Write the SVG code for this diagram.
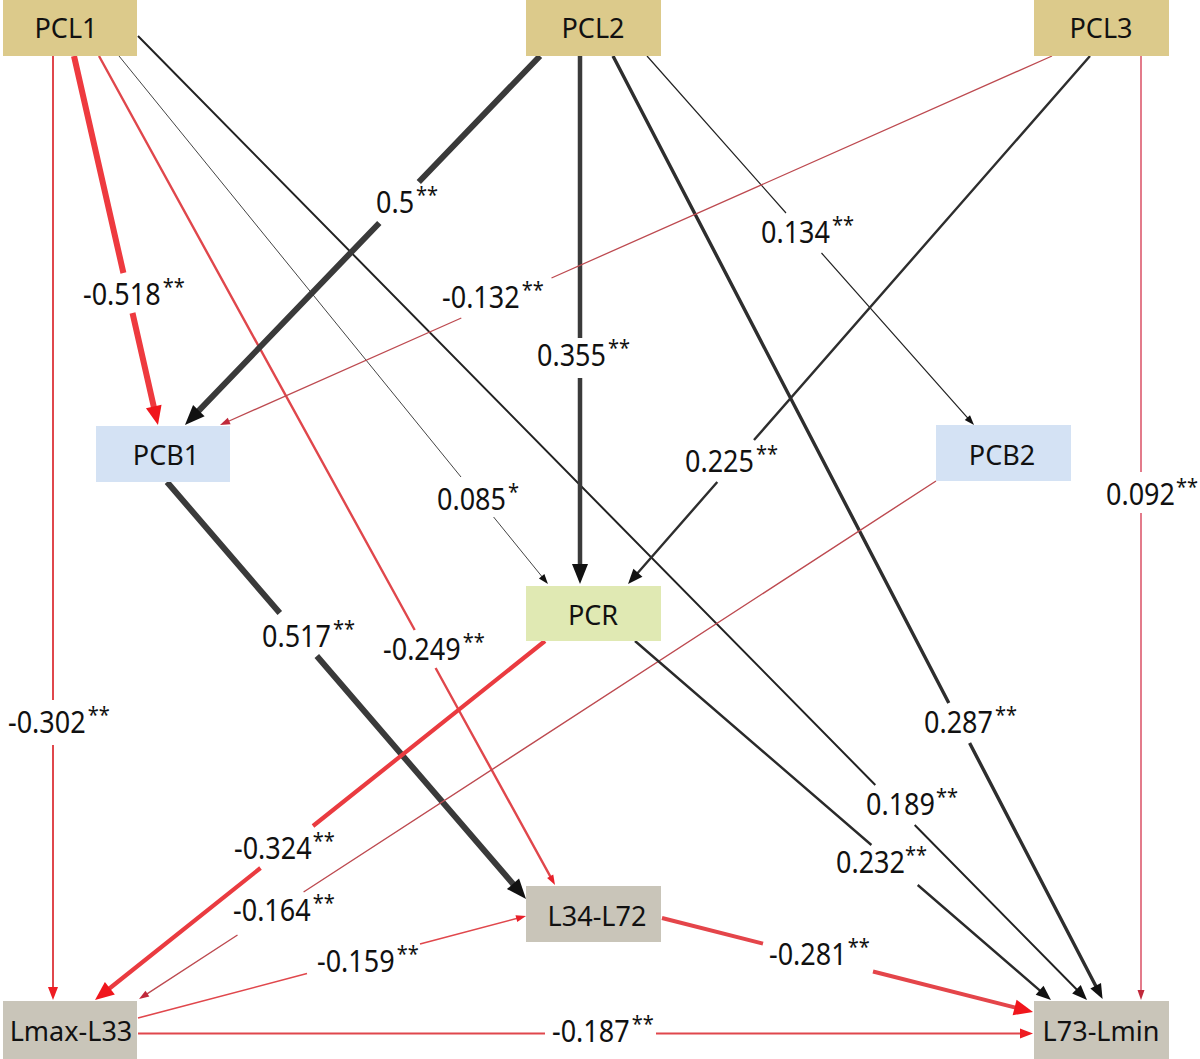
<svg xmlns="http://www.w3.org/2000/svg" width="1200" height="1059" viewBox="0 0 1200 1059">
<defs>
<style>
.n{font-family:"Noto Sans","Open Sans","DejaVu Sans",sans-serif;font-size:27px;fill:#111;text-anchor:middle}
.l{font-family:"Noto Sans","Open Sans","DejaVu Sans",sans-serif;font-size:27px;fill:#111}
.s{font-size:20px}
.c{fill:none;stroke-linecap:butt}
.pcl{fill:#dcca8b}
.pcb{fill:#d4e2f4}
.pcr{fill:#e0e9b3}
.lx{fill:#c9c5b9}
</style>
<marker id="bk" markerUnits="userSpaceOnUse" markerWidth="22" markerHeight="18" refX="8" refY="8" orient="auto" overflow="visible"><path d="M0,0 L20,8 L0,16 Z" fill="#111"/></marker>
<marker id="mk" markerUnits="userSpaceOnUse" markerWidth="17" markerHeight="13" refX="7" refY="6" orient="auto" overflow="visible"><path d="M0,0 L15,6 L0,12 Z" fill="#111"/></marker>
<marker id="sk" markerUnits="userSpaceOnUse" markerWidth="11" markerHeight="8" refX="5" refY="3.5" orient="auto" overflow="visible"><path d="M0,0 L10,3.5 L0,7 Z" fill="#111"/></marker>
<marker id="br" markerUnits="userSpaceOnUse" markerWidth="20" markerHeight="18" refX="7" refY="8" orient="auto" overflow="visible"><path d="M0,0 L19,8 L0,16 Z" fill="#f0161c"/></marker>
<marker id="mr" markerUnits="userSpaceOnUse" markerWidth="14" markerHeight="11" refX="6" refY="5" orient="auto" overflow="visible"><path d="M0,0 L13,5 L0,10 Z" fill="#ee1c22"/></marker>
<marker id="sr" markerUnits="userSpaceOnUse" markerWidth="11" markerHeight="8" refX="5" refY="3.5" orient="auto" overflow="visible"><path d="M0,0 L10,3.5 L0,7 Z" fill="#e8202a"/></marker>
<marker id="sd" markerUnits="userSpaceOnUse" markerWidth="11" markerHeight="8" refX="5" refY="3.5" orient="auto" overflow="visible"><path d="M0,0 L10,3.5 L0,7 Z" fill="#c0283a"/></marker>
</defs>
<rect width="1200" height="1059" fill="#fff"/>
<g id="connectors">
<path class="c" stroke="#e0474c" stroke-width="2" d="M53,56 L53,700 M53,745 L53,993" marker-end="url(#mr)"/>
<path class="c" stroke="#ee3a3f" stroke-width="6" d="M74,56 L123.4,273 M132.5,313 L155.3,413.3" marker-end="url(#br)"/>
<path class="c" stroke="#e0474c" stroke-width="2.4" d="M99,56 L414.7,630 M435.6,668 L552.6,880.6" marker-end="url(#sr)"/>
<path class="c" stroke="#444" stroke-width="1" d="M119,56 L461,477 M493.6,517 L544.8,580.1" marker-end="url(#sk)"/>
<path class="c" stroke="#222" stroke-width="2" d="M138,36 L875.3,785 M914.7,825 L1081.4,994.3" marker-end="url(#mk)"/>
<path class="c" stroke="#3a3a3a" stroke-width="6" d="M540,56 L418.8,182 M379.3,223 L193.3,416.4" marker-end="url(#bk)"/>
<path class="c" stroke="#3a3a3a" stroke-width="4.5" d="M580,56 L580,338 M580,378 L580,572" marker-end="url(#bk)"/>
<path class="c" stroke="#2e2e2e" stroke-width="3.4" d="M613,56 L948.8,703 M969.6,743 L1098.9,992" marker-end="url(#mk)"/>
<path class="c" stroke="#222" stroke-width="1.2" d="M647,56 L786,213 M821.5,253 L970.7,421.3" marker-end="url(#sk)"/>
<path class="c" stroke="#bd4a50" stroke-width="1.3" d="M1052,56 L551.5,278 M461.3,318 L224.6,423" marker-end="url(#sd)"/>
<path class="c" stroke="#2e2e2e" stroke-width="2.4" d="M1090,56 L754,440 M717.3,482 L633.3,578" marker-end="url(#mk)"/>
<path class="c" stroke="#dd5b6e" stroke-width="1.6" d="M1141,56 L1141,472 M1141,513 L1141,995" marker-end="url(#sd)"/>
<path class="c" stroke="#3a3a3a" stroke-width="6" d="M167,482 L279.8,613 M316.8,656 L518.2,889.9" marker-end="url(#bk)"/>
<path class="c" stroke="#bd4a50" stroke-width="1.4" d="M936,481 L303.6,892 M237.5,935 L143.2,996.3" marker-end="url(#sd)"/>
<path class="c" stroke="#ea3b40" stroke-width="4.2" d="M545,641 L313,826 M260.5,868 L104.4,992.5" marker-end="url(#br)"/>
<path class="c" stroke="#2a2a2a" stroke-width="2.4" d="M635,641 L871.4,845 M917.7,885 L1044.9,994.8" marker-end="url(#mk)"/>
<path class="c" stroke="#e0474c" stroke-width="1.6" d="M138,1018 L307,973.6 M420,943.9 L521.2,917.3" marker-end="url(#sr)"/>
<path class="c" stroke="#e0474c" stroke-width="2" d="M138,1033.5 L545,1033.5 M656,1033.5 L1026,1033.5" marker-end="url(#mr)"/>
<path class="c" stroke="#e4454a" stroke-width="4" d="M662,918 L763,943.6 M873,971.5 L1021.4,1009.1" marker-end="url(#br)"/>
</g>
<g id="PCL1"><rect class="pcl" x="3" y="0" width="134" height="56"/><text class="n" x="66" y="38">PCL1</text></g>
<g id="PCL2"><rect class="pcl" x="526" y="0" width="135" height="56"/><text class="n" x="593" y="38">PCL2</text></g>
<g id="PCL3"><rect class="pcl" x="1034" y="0" width="135" height="56"/><text class="n" x="1101" y="38">PCL3</text></g>
<g id="PCB1"><rect class="pcb" x="96" y="426" width="134" height="56"/><text class="n" x="166" y="465">PCB1</text></g>
<g id="PCB2"><rect class="pcb" x="936" y="425" width="135" height="56"/><text class="n" x="1002" y="465">PCB2</text></g>
<g id="PCR"><rect class="pcr" x="526" y="586" width="135" height="55"/><text class="n" x="593" y="625">PCR</text></g>
<g id="L34-L72"><rect class="lx" x="526" y="886" width="135" height="56"/><text class="n" x="597" y="926">L34-L72</text></g>
<g id="Lmax-L33"><rect class="lx" x="3" y="1001" width="134" height="58"/><text class="n" x="71" y="1041">Lmax-L33</text></g>
<g id="L73-Lmin"><rect class="lx" x="1034" y="1001" width="135" height="58"/><text class="n" x="1101" y="1041">L73-Lmin</text></g>
<g id="labels">
<text class="l" x="8" y="733" transform="translate(0 733) scale(1 1.12) translate(0 -733)">-0.302<tspan class="s" dx="2" dy="-10">**</tspan></text>
<text class="l" x="83" y="305" transform="translate(0 305) scale(1 1.12) translate(0 -305)">-0.518<tspan class="s" dx="2" dy="-10">**</tspan></text>
<text class="l" x="376" y="213" transform="translate(0 213) scale(1 1.12) translate(0 -213)">0.5<tspan class="s" dx="2" dy="-10">**</tspan></text>
<text class="l" x="442" y="308" transform="translate(0 308) scale(1 1.12) translate(0 -308)">-0.132<tspan class="s" dx="2" dy="-10">**</tspan></text>
<text class="l" x="537" y="366" transform="translate(0 366) scale(1 1.12) translate(0 -366)">0.355<tspan class="s" dx="2" dy="-10">**</tspan></text>
<text class="l" x="761" y="243" transform="translate(0 243) scale(1 1.12) translate(0 -243)">0.134<tspan class="s" dx="2" dy="-10">**</tspan></text>
<text class="l" x="437" y="510" transform="translate(0 510) scale(1 1.12) translate(0 -510)">0.085<tspan class="s" dx="2" dy="-10">*</tspan></text>
<text class="l" x="685" y="472" transform="translate(0 472) scale(1 1.12) translate(0 -472)">0.225<tspan class="s" dx="2" dy="-10">**</tspan></text>
<text class="l" x="1106" y="505" transform="translate(0 505) scale(1 1.12) translate(0 -505)">0.092<tspan class="s" dx="1" dy="-10">**</tspan></text>
<text class="l" x="262" y="647" transform="translate(0 647) scale(1 1.12) translate(0 -647)">0.517<tspan class="s" dx="2" dy="-10">**</tspan></text>
<text class="l" x="383" y="660" transform="translate(0 660) scale(1 1.12) translate(0 -660)">-0.249<tspan class="s" dx="2" dy="-10">**</tspan></text>
<text class="l" x="924" y="733" transform="translate(0 733) scale(1 1.12) translate(0 -733)">0.287<tspan class="s" dx="2" dy="-10">**</tspan></text>
<text class="l" x="866" y="815" transform="translate(0 815) scale(1 1.12) translate(0 -815)">0.189<tspan class="s" dx="1" dy="-10">**</tspan></text>
<text class="l" x="234" y="859" transform="translate(0 859) scale(1 1.12) translate(0 -859)">-0.324<tspan class="s" dx="1" dy="-10">**</tspan></text>
<text class="l" x="836" y="873" transform="translate(0 873) scale(1 1.12) translate(0 -873)">0.232<tspan class="s" dx="0" dy="-10">**</tspan></text>
<text class="l" x="233" y="921" transform="translate(0 921) scale(1 1.12) translate(0 -921)">-0.164<tspan class="s" dx="2" dy="-10">**</tspan></text>
<text class="l" x="317" y="972" transform="translate(0 972) scale(1 1.12) translate(0 -972)">-0.159<tspan class="s" dx="2" dy="-10">**</tspan></text>
<text class="l" x="769" y="965" transform="translate(0 965) scale(1 1.12) translate(0 -965)">-0.281<tspan class="s" dx="1" dy="-10">**</tspan></text>
<text class="l" x="552" y="1042" transform="translate(0 1042) scale(1 1.12) translate(0 -1042)">-0.187<tspan class="s" dx="2" dy="-10">**</tspan></text>
</g>
</svg>
